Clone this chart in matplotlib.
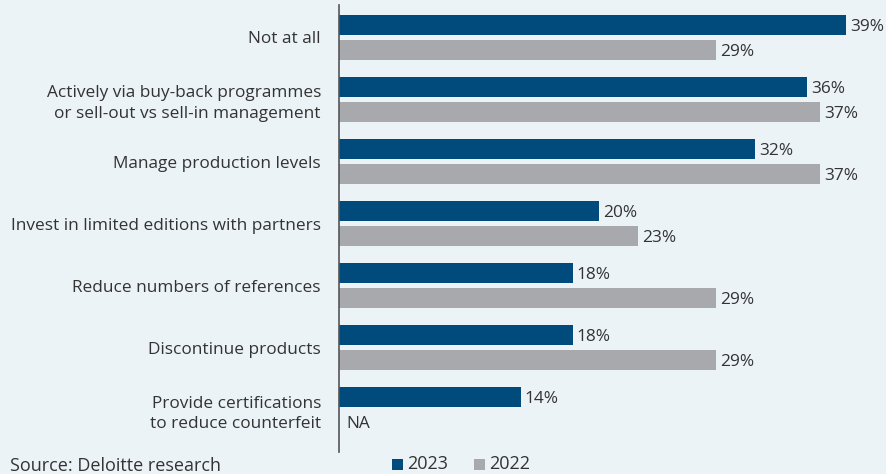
import matplotlib
matplotlib.use("Agg")
import matplotlib.pyplot as plt
from matplotlib.patches import Rectangle

plt.rcParams['font.family'] = ['Open Sans', 'DejaVu Sans']

categories = [
    "Not at all",
    "Actively via buy-back programmes\nor sell-out vs sell-in management",
    "Manage production levels",
    "Invest in limited editions with partners",
    "Reduce numbers of references",
    "Discontinue products",
    "Provide certifications\nto reduce counterfeit",
]
values_2023 = [39, 36, 32, 20, 18, 18, 14]
values_2022 = [29, 37, 37, 23, 29, 29, None]
series_labels = ["2023", "2022"]
source_text = "Source: Deloitte research"

BG = "#ebf3f7"
BLUE = "#004a7c"
GRAY = "#a7a9ac"
TXT = "#333333"
FS = 12.4

W, H = 887, 474
X0 = 339
fig = plt.figure(figsize=(W / 100, H / 100), dpi=100, facecolor=BG)
ax = fig.add_axes([X0 / W, 1 - 452 / H, (W - X0) / W, 447 / H], facecolor=BG)

bh = 0.33
off = 0.2
ys = list(range(len(categories)))
ax.barh([y - off for y in ys], values_2023, height=bh, color=BLUE)
v22 = [v if v is not None else 0 for v in values_2022]
ax.barh([y + off for y in ys], v22, height=bh, color=GRAY)

for y, v in zip(ys, values_2023):
    ax.text(v + 0.3, y - off + 0.03, f"{v}%", va="center", ha="left", fontsize=FS, color=TXT)
for y, v in zip(ys, values_2022):
    if v is None:
        ax.text(0.6, y + off + 0.03, "NA", va="center", ha="left", fontsize=FS, color=TXT)
    else:
        ax.text(v + 0.3, y + off + 0.03, f"{v}%", va="center", ha="left", fontsize=FS, color=TXT)

ax.set_xlim(0, (W - X0) / 13.0)
ax.set_ylim(6.685, -0.524)
ax.set_yticks(ys)
ax.set_yticklabels(categories, fontsize=FS, color=TXT, ha="right", linespacing=1.4)
ax.tick_params(axis="y", length=0, pad=13)
ax.set_xticks([])
for s in ["top", "right", "bottom"]:
    ax.spines[s].set_visible(False)
ax.spines["left"].set_color("#555555")
ax.spines["left"].set_linewidth(1.2)

# legend
fig.patches.append(Rectangle((392 / W, 1 - 470 / H), 11 / W, 11 / H, transform=fig.transFigure,
                             facecolor=BLUE, edgecolor="none"))
fig.text(407 / W, 1 - 464 / H, series_labels[0], fontsize=13, color=TXT, va="center", ha="left")
fig.patches.append(Rectangle((474 / W, 1 - 470 / H), 11 / W, 11 / H, transform=fig.transFigure,
                             facecolor=GRAY, edgecolor="none"))
fig.text(489 / W, 1 - 464 / H, series_labels[1], fontsize=13, color=TXT, va="center", ha="left")

fig.text(10 / W, 1 - 466 / H, source_text, fontsize=13, color=TXT, va="center", ha="left")

fig.savefig("out.png", dpi=100, facecolor=BG)
